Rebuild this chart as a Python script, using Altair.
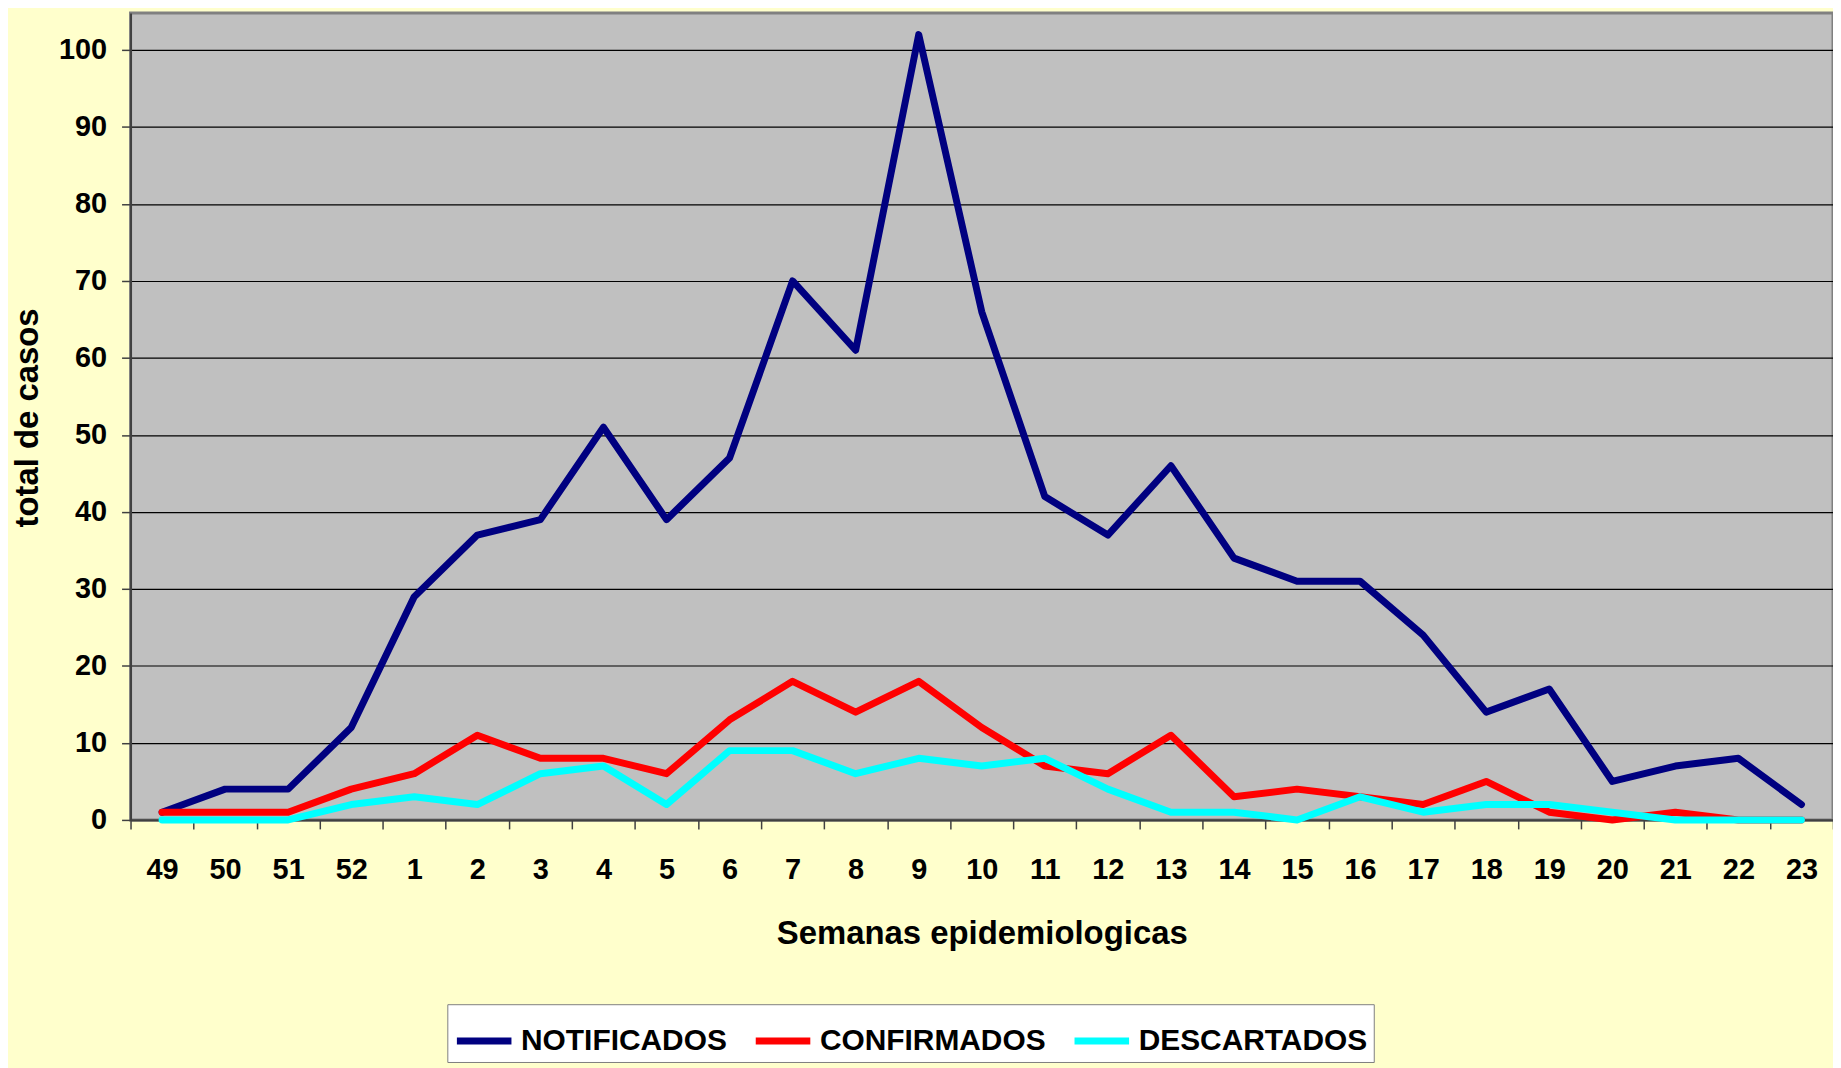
import altair as alt
import pandas as pd

weeks = ["49", "50", "51", "52", "1", "2", "3", "4", "5", "6", "7", "8", "9", "10",
         "11", "12", "13", "14", "15", "16", "17", "18", "19", "20", "21", "22", "23"]
notificados = [1, 4, 4, 12, 29, 37, 39, 51, 39, 47, 70, 61, 102, 66,
               42, 37, 46, 34, 31, 31, 24, 14, 17, 5, 7, 8, 2]
confirmados = [1, 1, 1, 4, 6, 11, 8, 8, 6, 13, 18, 14, 18, 12,
               7, 6, 11, 3, 4, 3, 2, 5, 1, 0, 1, 0, 0]
descartados = [0, 0, 0, 2, 3, 2, 6, 7, 2, 9, 9, 6, 8, 7,
               8, 4, 1, 1, 0, 3, 1, 2, 2, 1, 0, 0, 0]
series_names = ["NOTIFICADOS", "CONFIRMADOS", "DESCARTADOS"]
series_colors = ["#000080", "#FF0000", "#00FFFF"]

rows = []
for name, vals in zip(series_names, [notificados, confirmados, descartados]):
    for w, v in zip(weeks, vals):
        rows.append({"semana": w, "serie": name, "casos": v})
df = pd.DataFrame(rows)

FONT = "'Liberation Sans', Arial, sans-serif"

chart = alt.Chart(df).mark_line(strokeWidth=7, strokeJoin="round", strokeCap="round").encode(
    x=alt.X("semana:N", sort=weeks,
            scale=alt.Scale(paddingInner=0, paddingOuter=0),
            axis=alt.Axis(title="Semanas epidemiologicas", labelAngle=0,
                          labelFont=FONT, labelFontSize=29, labelFontWeight="bold",
                          labelColor="black", labelPadding=27,
                          tickBand="extent", tickSize=9, tickColor="#404040", tickWidth=1.5,
                          domainColor="#404040", domainWidth=2, grid=False,
                          titleFont=FONT, titleFontSize=33, titleFontWeight="bold",
                          titleColor="black", titlePadding=33)),
    y=alt.Y("casos:Q", scale=alt.Scale(domain=[0, 104.8], nice=False),
            axis=alt.Axis(title="total de casos", values=list(range(0, 101, 10)),
                          labelFont=FONT, labelFontSize=29, labelFontWeight="bold",
                          labelColor="black", labelPadding=15,
                          tickSize=9, tickColor="#404040", tickWidth=1.5,
                          domainColor="#404040", domainWidth=2,
                          grid=True, gridColor="black", gridWidth=1.2,
                          titleFont=FONT, titleFontSize=33, titleFontWeight="bold",
                          titleColor="black", titleAngle=270, titleX=-93, titleY=406,
                          titleAlign="center", titleBaseline="alphabetic")),
    color=alt.Color("serie:N",
                    scale=alt.Scale(domain=series_names, range=series_colors),
                    legend=alt.Legend(orient="none", legendX=318, legendY=995,
                                      direction="horizontal", title=None,
                                      symbolType="stroke", symbolStrokeWidth=7,
                                      symbolSize=3000, labelFont=FONT,
                                      labelFontSize=30, labelFontWeight="bold",
                                      labelColor="black", labelOffset=6, labelLimit=0,
                                      columnPadding=14, padding=6,
                                      fillColor="white", strokeColor="#808080")),
    order=alt.Order("serie_order:Q"),
).transform_calculate(
    serie_order="indexof(['NOTIFICADOS','CONFIRMADOS','DESCARTADOS'], datum.serie)"
).properties(
    width=1709, height=810,
    background="#FFFFCC",
    padding={"left": 123, "top": 3, "right": 0, "bottom": 247},
    autosize=alt.AutoSizeParams(type="none"),
).configure_view(
    fill="#C0C0C0", stroke="#808080", strokeWidth=3,
)

chart.save("out.html", embed_options={"renderer": "svg", "actions": False})
